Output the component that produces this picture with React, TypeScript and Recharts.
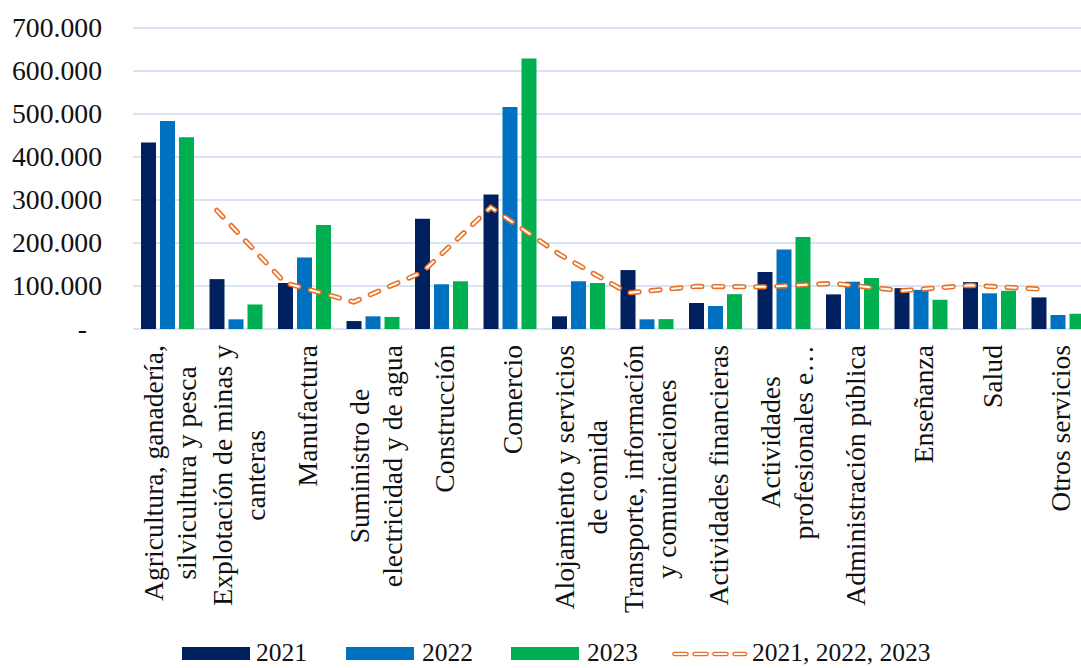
import React from 'react';
import { Bar, CartesianGrid, ComposedChart, Line, XAxis, YAxis } from 'recharts';

const sectores = [
  'Agricultura, ganadería, silvicultura y pesca',
  'Explotación de minas y canteras',
  'Manufactura',
  'Suministro de electricidad y de agua',
  'Construcción',
  'Comercio',
  'Alojamiento y servicios de comida',
  'Transporte, información y comunicaciones',
  'Actividades financieras',
  'Actividades profesionales e…',
  'Administración pública',
  'Enseñanza',
  'Salud',
  'Otros servicios',
];

// wrapped the way the reference shows them
const etiquetas = [
  ['Agricultura, ganadería,', 'silvicultura y pesca'],
  ['Explotación de minas y', 'canteras'],
  ['Manufactura'],
  ['Suministro de', 'electricidad y de agua'],
  ['Construcción'],
  ['Comercio'],
  ['Alojamiento y servicios', 'de comida'],
  ['Transporte, información', 'y comunicaciones'],
  ['Actividades financieras'],
  ['Actividades', 'profesionales e…'],
  ['Administración pública'],
  ['Enseñanza'],
  ['Salud'],
  ['Otros servicios'],
];

const v2021 = [434000, 116000, 107000, 18500, 256500, 313000, 29500, 137000, 60500, 132500, 80500, 95000, 109000, 73500];
const v2022 = [484000, 22500, 166000, 29500, 104000, 516000, 111000, 22500, 53500, 185000, 110000, 91000, 83000, 32500];
const v2023 = [446000, 57000, 242000, 28000, 111000, 629000, 107000, 23000, 81000, 214000, 118500, 68000, 89000, 35500];
const tendencia = [null, 276000, 107000, 63000, 132000, 283000, 174000, 84000, 99000, 98000, 106000, 89000, 101500, 93000];

const yTicks = [0, 100000, 200000, 300000, 400000, 500000, 600000, 700000];

const data = sectores.map((s, i) => ({
  sector: s,
  a2021: v2021[i],
  a2022: v2022[i],
  a2023: v2023[i],
  tend: tendencia[i],
}));

const FONT_FAMILY = "'Liberation Serif', 'Times New Roman', serif";
const FS = 27.7;
const NAVY = '#002060';
const BLUE = '#0070C0';
const GREEN = '#00B050';
const ORANGE = '#E97125';

let ctx: CanvasRenderingContext2D | null = null;
const medir = (t: string) => {
  if (!ctx) ctx = document.createElement('canvas').getContext('2d');
  if (!ctx) return t.length * FS * 0.45;
  ctx.font = `${FS}px 'Liberation Serif'`;
  return ctx.measureText(t).width;
};

const fmt = (v: number) => (v === 0 ? '-' : `${Math.round(v / 1000)}.000`);

const YTick = (props: any) => {
  const { x, y, payload } = props;
  return (
    <text
      x={payload.value === 0 ? x - 15 : x}
      y={y}
      dy="0.34em"
      textAnchor="end"
      fontFamily={FONT_FAMILY}
      fontSize={FS}
      fill="#111"
    >
      {fmt(payload.value)}
    </text>
  );
};

const XTick = (props: any) => {
  const { x, y, payload } = props;
  const idx = sectores.indexOf(payload.value);
  const lines = idx >= 0 ? etiquetas[idx] : [String(payload.value)];
  const maxW = Math.max(...lines.map(medir));
  const cx = -(16 + maxW / 2);
  const n = lines.length;
  return (
    <g transform={`translate(${x},${y}) rotate(-90)`}>
      {lines.map((l, i) => (
        <text
          key={i}
          x={cx}
          y={12.5 + (i - (n - 1) / 2) * 33}
          textAnchor="middle"
          fontFamily={FONT_FAMILY}
          fontSize={FS}
          fill="#111"
        >
          {l}
        </text>
      ))}
    </g>
  );
};

const legendText: React.CSSProperties = {
  position: 'absolute',
  top: 642,
  height: 22,
  lineHeight: '22px',
  fontFamily: FONT_FAMILY,
  fontSize: 25.5,
  color: '#111',
  whiteSpace: 'nowrap',
};

const Swatch = ({ left, color }: { left: number; color: string }) => (
  <div style={{ position: 'absolute', left, top: 646.5, width: 68, height: 13.5, background: color }} />
);

export default function App() {
  return (
    <div style={{ position: 'relative', width: 1081, height: 668, overflow: 'hidden', background: '#fff' }}>
      <style>{'body{margin:0}'}</style>
      <ComposedChart
        width={1092}
        height={668}
        data={data}
        margin={{ top: 28, right: 0, left: 0, bottom: 0 }}
        barSize={15}
        barGap={4}
      >
        <CartesianGrid vertical={false} stroke="#D9E3F3" strokeWidth={2} />
        <XAxis
          dataKey="sector"
          interval={0}
          height={339}
          axisLine={false}
          tickLine={false}
          tickSize={0}
          tickMargin={0}
          tick={<XTick />}
        />
        <XAxis xAxisId="tend" dataKey="sector" hide padding={{ left: -19, right: 19 }} />
        <YAxis
          domain={[0, 700000]}
          ticks={yTicks}
          interval={0}
          width={133}
          axisLine={false}
          tickLine={false}
          tickSize={0}
          tickMargin={31}
          tick={<YTick />}
        />
        <Bar dataKey="a2021" fill={NAVY} isAnimationActive={false} />
        <Bar dataKey="a2022" fill={BLUE} isAnimationActive={false} />
        <Bar dataKey="a2023" fill={GREEN} isAnimationActive={false} />
        <Line
          xAxisId="tend"
          dataKey="tend"
          type="linear"
          stroke={ORANGE}
          strokeWidth={5.2}
          strokeDasharray="9 12"
          strokeLinecap="round"
          dot={false}
          activeDot={false}
          isAnimationActive={false}
        />
        <Line
          xAxisId="tend"
          dataKey="tend"
          type="linear"
          stroke="#fff"
          strokeWidth={2}
          strokeDasharray="9 12"
          strokeLinecap="round"
          dot={false}
          activeDot={false}
          isAnimationActive={false}
        />
      </ComposedChart>

      <Swatch left={182} color={NAVY} />
      <span style={{ ...legendText, left: 256 }}>2021</span>
      <Swatch left={346} color={BLUE} />
      <span style={{ ...legendText, left: 422 }}>2022</span>
      <Swatch left={511} color={GREEN} />
      <span style={{ ...legendText, left: 587 }}>2023</span>
      <svg style={{ position: 'absolute', left: 672, top: 647.5 }} width={76} height={12}>
        <line x1={2.5} y1={6} x2={73} y2={6} stroke={ORANGE} strokeWidth={4.6} strokeDasharray="12 8" strokeLinecap="round" />
        <line x1={2.5} y1={6} x2={73} y2={6} stroke="#fff" strokeWidth={1.8} strokeDasharray="12 8" strokeLinecap="round" />
      </svg>
      <span style={{ ...legendText, left: 752 }}>2021, 2022, 2023</span>
    </div>
  );
}
